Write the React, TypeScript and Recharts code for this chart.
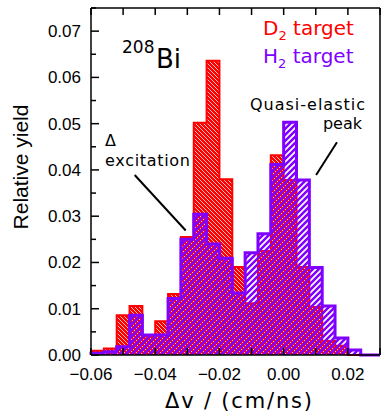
import { ComposedChart, Area, XAxis, YAxis, ReferenceLine } from "recharts"

// histogram bins: left edge of each bin (width 0.004 cm/ns)
const binLeft = [
  -0.06, -0.056, -0.052, -0.048, -0.044, -0.04, -0.036, -0.032, -0.028, -0.024, -0.02,
  -0.016, -0.012, -0.008, -0.004, 0, 0.004, 0.008, 0.012, 0.016, 0.02, 0.024,
]
const lastEdge = 0.028
const axisEnd = 0.03

const d2Yield = [
  0.0009, 0.0014, 0.0086, 0.0106, 0.004, 0.0073, 0.0132, 0.0255, 0.0502, 0.0636, 0.038,
  0.019, 0.0112, 0.0225, 0.0432, 0.0378, 0.019, 0.0104, 0.003, 0.002, 0, 0,
]
const h2Yield = [
  0.0004, 0.0007, 0.0018, 0.0086, 0.0043, 0.0043, 0.0122, 0.025, 0.0304, 0.024, 0.0209,
  0.0134, 0.0221, 0.0262, 0.0412, 0.0503, 0.0378, 0.0189, 0.0106, 0.0037, 0.0011, 0,
]

const xTicks = [-0.06, -0.05, -0.04, -0.03, -0.02, -0.01, 0, 0.01, 0.02, 0.03]
const xLabeled = [-0.06, -0.04, -0.02, 0, 0.02]
const yTicks = [
  0, 0.005, 0.01, 0.015, 0.02, 0.025, 0.03, 0.035, 0.04, 0.045, 0.05, 0.055, 0.06, 0.065,
  0.07, 0.075,
]

const RED = "#ff0000"
const PURPLE = "#8000ff"
const W = 381
const H = 417
const LEFT = 91
const RIGHT = 380
const TOP = 8
const BOTTOM = 355
const TICK_FONT = "'Liberation Sans', Arial, sans-serif"
const TEXT_FONT = "'DejaVu Sans', sans-serif"

// step outline needs a zero point at each end
const data = [
  { x: binLeft[0], d2: 0, h2: 0 },
  ...binLeft.map((x, i) => ({ x, d2: d2Yield[i], h2: h2Yield[i] })),
  { x: lastEdge, d2: 0, h2: 0 },
  { x: axisEnd, d2: 0, h2: 0 },
]

const isMajorY = (v: number) => Math.abs(v * 100 - Math.round(v * 100)) < 1e-6

function fmt(v: number) {
  if (Math.abs(v) < 1e-9) return "0.00"
  return (v < 0 ? "\u2212" : "") + Math.abs(v).toFixed(2)
}

function BottomTick(props: any) {
  const { x, payload } = props
  const v = payload.value
  const labeled = xLabeled.some((t) => Math.abs(t - v) < 1e-9)
  return (
    <g>
      <line x1={x} x2={x} y1={BOTTOM} y2={BOTTOM - 7} stroke="#000" strokeWidth={1.5} />
      {labeled && (
        <text x={x} y={380} textAnchor="middle" fontFamily={TICK_FONT} fontSize={17} fill="#000">
          {fmt(v)}
        </text>
      )}
    </g>
  )
}

function TopTick(props: any) {
  const { x } = props
  return <line x1={x} x2={x} y1={TOP} y2={TOP + 7} stroke="#000" strokeWidth={1.5} />
}

function LeftTick(props: any) {
  const { y, payload } = props
  const major = isMajorY(payload.value)
  return (
    <g>
      <line x1={LEFT} x2={LEFT + (major ? 8 : 5)} y1={y} y2={y} stroke="#000" strokeWidth={1.5} />
      {major && (
        <text x={81} y={y + 6} textAnchor="end" fontFamily={TICK_FONT} fontSize={17} fill="#000">
          {payload.value.toFixed(2)}
        </text>
      )}
    </g>
  )
}

function RightTick(props: any) {
  const { y, payload } = props
  const major = isMajorY(payload.value)
  return <line x1={RIGHT} x2={RIGHT - (major ? 8 : 5)} y1={y} y2={y} stroke="#000" strokeWidth={1.5} />
}

export default function App() {
  return (
    <div style={{ position: "absolute", left: 0, top: 0, width: W, height: H, background: "#fff" }}>
      <svg width={0} height={0} style={{ position: "absolute" }}>
        <defs>
          <pattern id="redHatch" patternUnits="userSpaceOnUse" width={4} height={4}>
            <rect width={4} height={4} fill={RED} />
            <path d="M-1,-1 L5,5 M3,-1 L5,1 M-1,3 L1,5" stroke="#fff" strokeOpacity={0.85} strokeWidth={0.9} />
          </pattern>
          <pattern id="purpleHatch" patternUnits="userSpaceOnUse" width={6} height={6}>
            <path d="M-1,7 L7,-1 M-4,4 L4,-4 M2,10 L10,2" stroke={PURPLE} strokeWidth={2.5} />
          </pattern>
        </defs>
      </svg>
      <ComposedChart width={W} height={H} data={data} margin={{ top: 0, right: 0, bottom: 0, left: 0 }}>
        <XAxis
          xAxisId="b"
          dataKey="x"
          type="number"
          domain={[-0.06, 0.03]}
          ticks={xTicks}
          height={H - BOTTOM}
          tickSize={0}
          tickLine={false}
          tick={(p: any) => <BottomTick {...p} />}
          axisLine={{ stroke: "#000", strokeWidth: 1.5 }}
          interval={0}
        />
        <XAxis
          xAxisId="t"
          orientation="top"
          dataKey="x"
          type="number"
          domain={[-0.06, 0.03]}
          ticks={xTicks}
          height={TOP}
          tickSize={0}
          tickLine={false}
          tick={(p: any) => <TopTick {...p} />}
          axisLine={{ stroke: "#000", strokeWidth: 1.5 }}
          interval={0}
        />
        <YAxis
          yAxisId="l"
          type="number"
          domain={[0, 0.075]}
          ticks={yTicks}
          width={LEFT}
          tickSize={0}
          tickLine={false}
          tick={(p: any) => <LeftTick {...p} />}
          axisLine={{ stroke: "#000", strokeWidth: 1.5 }}
          interval={0}
        />
        <YAxis
          yAxisId="r"
          orientation="right"
          type="number"
          domain={[0, 0.075]}
          ticks={yTicks}
          width={W - RIGHT}
          tickSize={0}
          tickLine={false}
          tick={(p: any) => <RightTick {...p} />}
          axisLine={{ stroke: "#000", strokeWidth: 1.5 }}
          interval={0}
        />
        <Area
          xAxisId="b"
          yAxisId="l"
          type="stepAfter"
          dataKey="d2"
          stroke={RED}
          strokeWidth={2}
          fill="url(#redHatch)"
          fillOpacity={1}
          dot={false}
          activeDot={false}
          isAnimationActive={false}
        />
        <Area
          xAxisId="b"
          yAxisId="l"
          type="stepAfter"
          dataKey="h2"
          stroke={PURPLE}
          strokeWidth={3}
          fill="url(#purpleHatch)"
          fillOpacity={1}
          dot={false}
          activeDot={false}
          isAnimationActive={false}
        />
        <ReferenceLine
          xAxisId="b"
          yAxisId="l"
          segment={[{ x: -0.0464, y: 0.0389 }, { x: -0.0305, y: 0.0269 }]}
          stroke="#000"
          strokeWidth={2}
        />
        <ReferenceLine
          xAxisId="b"
          yAxisId="l"
          segment={[{ x: 0.0166, y: 0.046 }, { x: 0.0101, y: 0.0389 }]}
          stroke="#000"
          strokeWidth={2}
        />
      </ComposedChart>
      <svg
        width={W}
        height={H}
        style={{ position: "absolute", left: 0, top: 0, pointerEvents: "none" }}
      >
        <text
          transform="translate(28,167) rotate(-90)"
          textAnchor="middle"
          fontFamily={TICK_FONT}
          fontSize={21}
          fill="#000"
        >
          Relative yield
        </text>
        <text
          x={238.5}
          y={408}
          textAnchor="middle"
          fontFamily={TEXT_FONT}
          fontSize={21}
          textLength={147}
          lengthAdjust="spacing"
          fill="#000"
        >
          Δv / (cm/ns)
        </text>
        <text x={122} y={53} fontFamily={TEXT_FONT} fontSize={17} fill="#000">
          208
        </text>
        <text x={156} y={68} fontFamily={TEXT_FONT} fontSize={26} fill="#000">
          Bi
        </text>
        <text x={263} y={35} fontFamily={TEXT_FONT} fontSize={20} fill={RED}>
          D<tspan fontSize={13} dy={5}>2</tspan>
          <tspan dy={-5}> target</tspan>
        </text>
        <text x={263} y={63} fontFamily={TEXT_FONT} fontSize={20} fill={PURPLE}>
          H<tspan fontSize={13} dy={5}>2</tspan>
          <tspan dy={-5}> target</tspan>
        </text>
        <text x={105} y={146} fontFamily={TEXT_FONT} fontSize={16} fill="#000">
          Δ
        </text>
        <text x={105} y={166} fontFamily={TEXT_FONT} fontSize={16} textLength={85} lengthAdjust="spacing" fill="#000">
          excitation
        </text>
        <text x={365} y={110} textAnchor="end" fontFamily={TEXT_FONT} fontSize={16} textLength={115} lengthAdjust="spacing" fill="#000">
          Quasi-elastic
        </text>
        <text x={362} y={129} textAnchor="end" fontFamily={TEXT_FONT} fontSize={16} fill="#000">
          peak
        </text>
      </svg>
    </div>
  )
}
